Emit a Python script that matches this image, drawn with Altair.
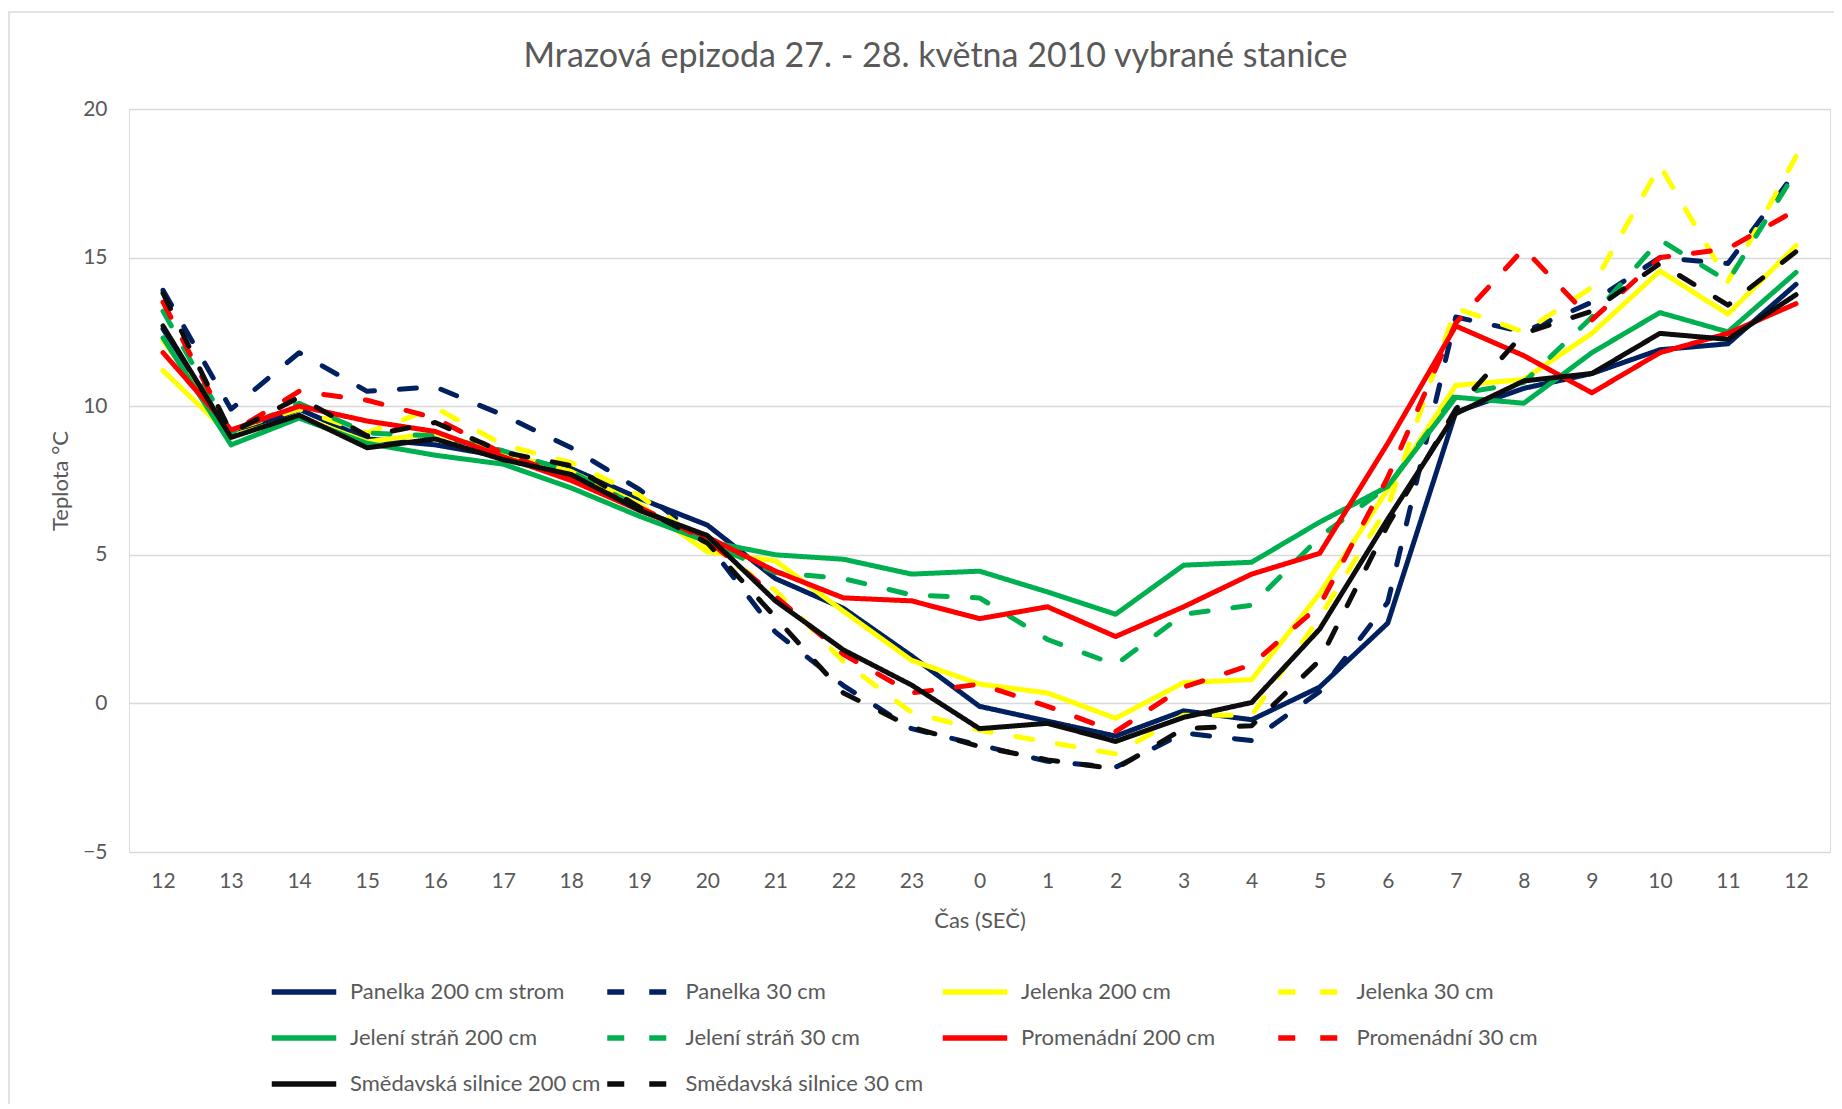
import altair as alt
import pandas as pd

hours = [12, 13, 14, 15, 16, 17, 18, 19, 20, 21, 22, 23, 0, 1, 2, 3, 4, 5, 6, 7, 8, 9, 10, 11, 12]

series_names = [
    "Panelka 200 cm strom", "Panelka 30 cm",
    "Jelenka 200 cm", "Jelenka 30 cm",
    "Jelení stráň 200 cm", "Jelení stráň 30 cm",
    "Promenádní 200 cm", "Promenádní 30 cm",
    "Smědavská silnice 200 cm", "Smědavská silnice 30 cm",
]

panelka_200 = [12.6, 9.0, 9.9, 8.9, 8.7, 8.3, 7.9, 6.9, 6.0, 4.2, 3.2, 1.6, -0.1, -0.6, -1.1, -0.25, -0.55, 0.55, 2.7, 9.8, 10.6, 11.1, 11.9, 12.1, 14.1]
panelka_30 = [13.9, 9.9, 11.8, 10.5, 10.65, 9.7, 8.6, 7.2, 5.4, 2.4, 0.6, -0.85, -1.4, -1.95, -2.15, -1.0, -1.25, 0.4, 3.4, 13.0, 12.5, 13.5, 15.0, 14.8, 17.9]
jelenka_200 = [11.2, 9.0, 9.65, 8.8, 9.1, 8.4, 7.8, 6.7, 5.1, 4.8, 3.1, 1.45, 0.65, 0.35, -0.5, 0.7, 0.8, 3.7, 7.2, 10.7, 10.9, 12.45, 14.55, 13.1, 15.4]
jelenka_30 = [12.2, 9.2, 9.9, 9.1, 9.95, 8.7, 8.1, 7.0, 5.3, 3.8, 1.4, -0.3, -0.9, -1.3, -1.7, -0.4, -0.4, 2.9, 6.6, 13.3, 12.5, 14.0, 18.1, 14.2, 18.4]
jeleni_200 = [12.3, 8.7, 9.6, 8.75, 8.35, 8.05, 7.25, 6.3, 5.45, 5.0, 4.85, 4.35, 4.45, 3.75, 3.0, 4.65, 4.75, 6.1, 7.3, 10.3, 10.1, 11.8, 13.15, 12.5, 14.5]
jeleni_30 = [13.2, 9.1, 10.1, 9.1, 9.0, 8.5, 7.8, 6.6, 5.4, 4.4, 4.2, 3.65, 3.55, 2.15, 1.3, 3.0, 3.3, 5.6, 7.3, 10.4, 10.8, 13.0, 15.6, 14.2, 17.9]
promenadni_200 = [11.8, 9.2, 10.0, 9.5, 9.15, 8.3, 7.5, 6.5, 5.6, 4.45, 3.55, 3.45, 2.85, 3.25, 2.25, 3.25, 4.35, 5.05, 8.75, 12.7, 11.7, 10.45, 11.8, 12.45, 13.45]
promenadni_30 = [13.5, 9.1, 10.5, 10.2, 9.6, 8.4, 7.6, 6.6, 5.5, 3.6, 1.65, 0.35, 0.65, -0.1, -0.95, 0.55, 1.3, 3.3, 7.6, 12.8, 15.3, 12.9, 15.0, 15.3, 16.6]
smedavska_200 = [12.7, 8.95, 9.7, 8.6, 8.9, 8.2, 7.7, 6.5, 5.65, 3.45, 1.8, 0.62, -0.85, -0.67, -1.28, -0.47, 0.03, 2.5, 6.2, 9.75, 10.85, 11.1, 12.45, 12.25, 13.75]
smedavska_30 = [13.8, 9.1, 10.3, 9.0, 9.45, 8.45, 8.0, 6.6, 5.4, 2.9, 0.35, -0.8, -1.45, -1.9, -2.2, -0.85, -0.75, 1.45, 6.0, 9.9, 12.45, 13.2, 14.8, 13.4, 15.2]

series_values = [panelka_200, panelka_30, jelenka_200, jelenka_30, jeleni_200,
                 jeleni_30, promenadni_200, promenadni_30, smedavska_200, smedavska_30]

colors = ["#002060", "#002060", "#FFFF00", "#FFFF00", "#00B050",
          "#00B050", "#FF0000", "#FF0000", "#0D0D0D", "#0D0D0D"]
solid = [1, 0]
dash = [17, 25]
dashes = [solid, dash] * 5

rows = []
for order, (name, vals) in enumerate(zip(series_names, series_values)):
    for i, v in enumerate(vals):
        rows.append({"idx": i, "series": name, "temp": v, "z": order})
df = pd.DataFrame(rows)

label_expr = "[" + ",".join("'%d'" % h for h in hours) + "][datum.value]"

FONT = "Lato"
GREY = "#595959"

legend = alt.Legend(
    title=None, orient="none", direction="horizontal", legendX=140, legendY=848, columns=4,
    symbolType="stroke", symbolSize=4160, symbolStrokeWidth=5.5,
    labelFont=FONT, labelFontSize=22, labelColor=GREY, labelOffset=11,
    labelLimit=500, columnPadding=-5.5, rowPadding=0, padding=0, gridAlign="all",
)

lines = alt.Chart(df).mark_line(strokeWidth=5, strokeJoin="round", strokeCap="round").encode(
    x=alt.X("idx:Q",
            scale=alt.Scale(domain=[-0.5, 24.5], nice=False, zero=False),
            axis=alt.Axis(values=list(range(25)), labelExpr=label_expr, title="Čas (SEČ)",
                          grid=False, ticks=False, domain=False, labelPadding=18,
                          labelFont=FONT, labelFontSize=21, labelColor=GREY,
                          titleFont=FONT, titleFontSize=22, titleFontWeight="normal",
                          titleColor=GREY, titleY=68, titleBaseline="middle")),
    y=alt.Y("temp:Q",
            scale=alt.Scale(domain=[-5, 20], nice=False, zero=False),
            axis=alt.Axis(values=[-5, 0, 5, 10, 15, 20], title="Teplota °C",
                          grid=True, gridColor="#D9D9D9", gridWidth=1.5,
                          ticks=False, domain=False, labelPadding=22,
                          labelFont=FONT, labelFontSize=21, labelColor=GREY,
                          titleFont=FONT, titleFontSize=22, titleFontWeight="normal",
                          titleColor=GREY, titleX=-69, titleY=371.5, titleAngle=270,
                          titleAlign="center", titleBaseline="middle")),
    color=alt.Color("series:N", scale=alt.Scale(domain=series_names, range=colors), legend=legend),
    strokeDash=alt.StrokeDash("series:N", scale=alt.Scale(domain=series_names, range=dashes), legend=legend),
    detail="z:O",
)

frame = alt.Chart(pd.DataFrame({"f": [0]})).mark_rect(fill=None, stroke="#D9D9D9", strokeWidth=1.5).encode(
    x=alt.value(-120), x2=alt.value(1708), y=alt.value(-97), y2=alt.value(1005)
)

chart = alt.layer(frame, lines).properties(
    width=1701, height=743,
    title=alt.TitleParams("Mrazová epizoda 27. - 28. května 2010 vybrané stanice",
                          font=FONT, fontSize=34, fontWeight="normal", color=GREY,
                          anchor="middle", frame="group", baseline="alphabetic",
                          offset=0, dx=-44, dy=90),
    autosize=alt.AutoSizeParams(type="none"),
    padding={"left": 121, "top": 101, "right": 4, "bottom": 252},
).configure_view(stroke=None).configure(background="white")

chart.save("out.html", embed_options={"renderer": "svg", "actions": False})
